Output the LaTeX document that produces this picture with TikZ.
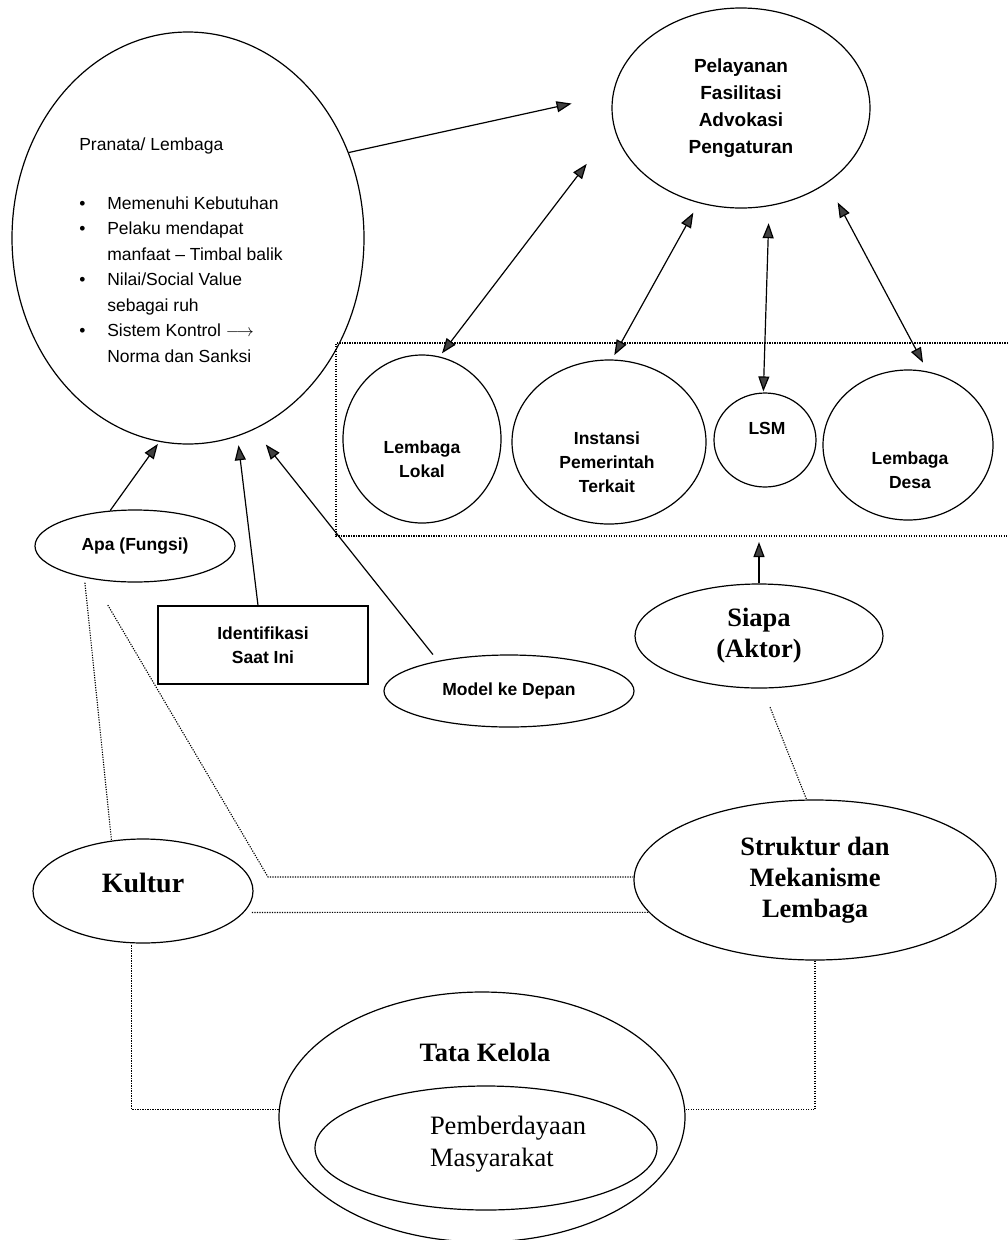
\documentclass[tikz,border=0pt]{standalone}
\usepackage{fontspec}
\setmainfont{Liberation Serif}
\setsansfont{Liberation Sans}
\usetikzlibrary{arrows.meta,shapes.geometric}

\tikzstyle{block} = [draw, line width=1.2pt, inner sep=0pt, align=center]
\tikzstyle{oval-block} = [block, ellipse]
\tikzstyle{sans-text} = [font=\sffamily\bfseries\fontsize{17.5}{24}\selectfont, align=center, inner sep=0pt]
\tikzstyle{serif-text} = [font=\bfseries\fontsize{26.5}{31}\selectfont, align=center, inner sep=0pt]
\tikzstyle{sans-block} = [oval-block, sans-text]
\tikzstyle{serif-block} = [oval-block, serif-text]
\tikzstyle{arrow-line} = [line width=1.2pt, -{Triangle[length=15pt,width=11pt,fill=black!75]}]
\tikzstyle{twin-arrow} = [line width=1.2pt, {Triangle[length=15pt,width=11pt,fill=black!75]}-{Triangle[length=15pt,width=11pt,fill=black!75]}]
\tikzstyle{dot-line} = [line width=1.1pt, dash pattern=on 1.2pt off 1.3pt]

\newcommand{\pranatalist}{%
	\begin{tabular}{@{}p{28pt}@{}l@{}}
		\multicolumn{2}{@{}l@{}}{Pranata/ Lembaga}\\[33pt]
		\textbullet & Memenuhi Kebutuhan\\
		\textbullet & Pelaku mendapat\\
		 & manfaat -- Timbal balik\\
		\textbullet & Nilai/Social Value\\
		 & sebagai ruh\\
		\textbullet & Sistem Kontrol $\longrightarrow$\\
		 & Norma dan Sanksi
	\end{tabular}}

\begin{document}
\begin{tikzpicture}[x=1pt, y=-1pt]
	\path [fill=white, use as bounding box] (0,0) rectangle (1008,1240);

	% lembaga dan layanan
	\node [oval-block, minimum width=352pt, minimum height=412pt,
		label={[font=\sffamily\fontsize{17.5}{25.5}\selectfont, inner sep=0pt, xshift=-7pt, yshift=-13.5pt]center:\pranatalist}] (Pranata) at (188,238) {};
	\node [sans-block, font=\sffamily\bfseries\fontsize{19}{27}\selectfont, minimum width=258pt, minimum height=200pt] (Layanan) at (741,108) {Pelayanan\\Fasilitasi\\Advokasi\\Pengaturan};

	% aktor
	\draw [dot-line] (1008,343) -| (336,536) -- (1008,536);
	\coordinate (AktorBox) at (759,536);
	\node [oval-block, minimum width=158pt, minimum height=168pt, label={[sans-text, yshift=-20pt]center:Lembaga\\Lokal}] (LLokal) at (422,439) {};
	\node [oval-block, minimum width=194pt, minimum height=164pt, label={[sans-text, xshift=-2pt, yshift=-20pt]center:Instansi\\Pemerintah\\Terkait}] (Instansi) at (609,442) {};
	\node [oval-block, minimum width=102pt, minimum height=94pt, label={[sans-text, xshift=2pt, yshift=12pt]center:LSM}] (LSM) at (765,440) {};
	\node [oval-block, minimum width=170pt, minimum height=150pt, label={[sans-text, xshift=2pt, yshift=-25pt]center:Lembaga\\Desa}] (LDesa) at (908,445) {};

	% fungsi
	\node [sans-block, minimum width=200pt, minimum height=72pt] (Apa) at (135,546) {Apa (Fungsi)};
	\node [block, sans-text, draw, line width=1.2pt, minimum width=210pt, minimum height=78pt] (Identifikasi) at (263,645) {Identifikasi\\Saat Ini};
	\node [sans-block, minimum width=250pt, minimum height=72pt] (Model) at (509,691) {Model ke Depan};
	\node [serif-block, minimum width=248pt, minimum height=104pt] (Siapa) at (759,636) {Siapa\\(Aktor)};

	% struktur dan kultur
	\node [serif-block, minimum width=362pt, minimum height=160pt] (Struktur) at (815,880) {Struktur dan\\Mekanisme\\Lembaga};
	\node [oval-block, minimum width=220pt, minimum height=104pt, label={[serif-text, font=\bfseries\fontsize{28}{32}\selectfont, yshift=8pt]center:Kultur}] (Kultur) at (143,891) {};
	\node [oval-block, minimum width=406pt, minimum height=250pt, label={[serif-text, xshift=3pt, yshift=65pt]center:Tata Kelola}] (TataKelola) at (482,1117) {};
	\node [oval-block, minimum width=342pt, minimum height=124pt, label={[serif-text, font=\fontsize{26.5}{32}\selectfont, align=left, xshift=22pt, yshift=4pt]center:Pemberdayaan\\Masyarakat}] (Pemberdayaan) at (486,1148) {};

	\coordinate (Belok) at (268,877);

	\draw [arrow-line] [shorten >=42pt] (Pranata.28) -- (Layanan.174);
	\draw [twin-arrow] [shorten <=4pt, shorten >=45pt] (LLokal.78) -- (Layanan.189);
	\draw [twin-arrow] [shorten <=5pt, shorten >=11pt] (Instansi.88) -- (Layanan.246);
	\draw [twin-arrow] [shorten <=1pt, shorten >=17pt] (LSM.92) -- (Layanan.286);
	\draw [twin-arrow] [shorten <=10pt, shorten >=22pt] (LDesa.75) -- (Layanan.319);
	\draw [arrow-line] [shorten >=6pt] (Siapa.north) -- (AktorBox);

	\draw [arrow-line] [shorten >=2.5pt] (Apa.125) -- (Pranata.262);
	\draw [arrow-line] [shorten >=9pt] ([xshift=-5pt]Identifikasi.north) -- (Pranata.284);
	\draw [arrow-line] [shorten <=8pt, shorten >=19pt] (Model.157) -- (Pranata.289);

	\draw [dot-line] [shorten <=5pt] (Apa.212) -- (Kultur.122);
	\draw [dot-line] [shorten <=30pt] (Apa.218) -- (Belok) -- (Belok -| Struktur.west);
	\draw [dot-line] [shorten <=8pt] (Kultur.348) -- (Struktur.191);
	\draw [dot-line] [shorten <=20pt] (Siapa.274) -- (Struktur.96);
	\draw [dot-line] [shorten <=2pt] (Kultur.258) |- (TataKelola.178);
	\draw [dot-line] (Struktur.south) |- (TataKelola.2);

\end{tikzpicture}
\end{document}
